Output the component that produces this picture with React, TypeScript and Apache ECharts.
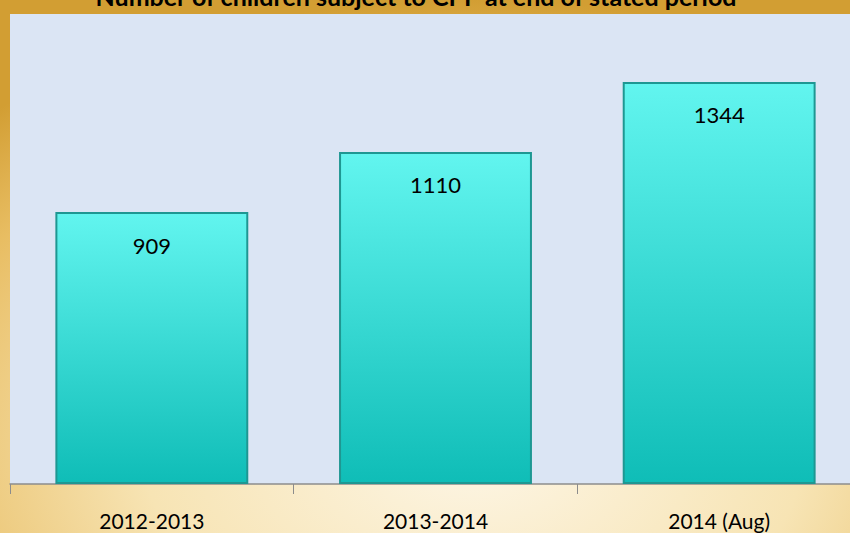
import React, { useEffect, useRef } from "react";
import * as echarts from "echarts";

const categories = ["2012-2013", "2013-2014", "2014 (Aug)"];
const childrenOnCPP = [909, 1110, 1344];
const titleText = "Number of children subject to CPP at end of stated period";

export default function App() {
  const ref = useRef<HTMLDivElement>(null);
  useEffect(() => {
    document.body.style.margin = "0";
    const chart = echarts.init(ref.current!, null, { renderer: "svg" });
    const font = "Lato, 'Open Sans', sans-serif";
    chart.setOption({
      animation: false,
      backgroundColor: {
        type: "radial",
        x: 0.55,
        y: 0.85,
        r: 0.85,
        colorStops: [
          { offset: 0, color: "#fdf6e6" },
          { offset: 0.45, color: "#f7e4b4" },
          { offset: 0.8, color: "#e8bd62" },
          { offset: 1, color: "#d29e33" },
        ],
      },
      graphic: [
        {
          type: "rect",
          shape: { x: 10, y: 14, width: 851, height: 470 },
          style: { fill: "#dbe5f4" },
          z: -10,
          silent: true,
        },
        {
          type: "text",
          x: 416,
          y: 8,
          style: {
            text: titleText,
            font: `bold 25px ${font}`,
            fill: "#000",
            align: "center",
            verticalAlign: "bottom",
          },
        },
      ],
      grid: { left: 10, right: 0, bottom: 49, top: 5.3, containLabel: false },
      xAxis: {
        type: "category",
        data: categories,
        axisLine: { show: true, lineStyle: { color: "#8c8c8c", width: 1.5 } },
        axisTick: { show: true, length: 10, lineStyle: { color: "#8c8c8c" } },
        axisLabel: { color: "#000", fontSize: 21, fontFamily: font, margin: 26 },
      },
      yAxis: {
        type: "value",
        min: 0,
        max: 1600,
        show: false,
        splitLine: { show: false },
      },
      series: [
        {
          type: "bar",
          data: childrenOnCPP,
          barCategoryGap: "32%",
          itemStyle: {
            color: {
              type: "linear",
              x: 0,
              y: 0,
              x2: 0,
              y2: 1,
              colorStops: [
                { offset: 0, color: "#62f5ef" },
                { offset: 1, color: "#0fbdb7" },
              ],
            },
            borderColor: "#1e9792",
            borderWidth: 2,
          },
          label: {
            show: true,
            position: "insideTop",
            distance: 22,
            color: "#000",
            fontSize: 22,
            fontFamily: font,
          },
        },
      ],
    });
    return () => chart.dispose();
  }, []);
  return (
    <div style={{ width: 850, height: 533, overflow: "hidden" }}>
      <div ref={ref} style={{ width: 861, height: 533 }} />
    </div>
  );
}
